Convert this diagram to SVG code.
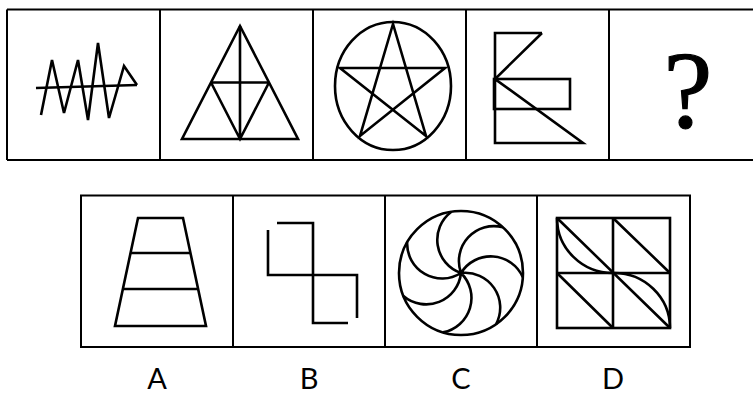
<svg xmlns="http://www.w3.org/2000/svg" width="753" height="397" viewBox="0 0 753 397">
<style>
.frame{fill:none;stroke:#000;stroke-width:2}
.fig{fill:none;stroke:#000;stroke-width:2.6;stroke-linejoin:miter;stroke-linecap:butt}
.lbl{font-family:Lato,"Liberation Sans",sans-serif;font-size:29px;fill:#000;text-anchor:middle}
.q{font-family:"Liberation Serif",serif;font-size:110px;fill:#000;stroke:#000;stroke-width:1.2;text-anchor:middle}
</style>
<rect width="753" height="397" fill="#fff"/>
<g id="top-row-frame">
<path class="frame" d="M7 9.5H754M7 160H754M7 9.5V160M160 9.5V160M313 9.5V160M466 9.5V160M609 9.5V160"/>
</g>
<g id="panel1">
<path class="fig" d="M36 88L137 85"/>
<path class="fig" d="M41 115L52 60L64 113L78 60L88 120L98 43L109 118L124 66L137 85"/>
</g>
<g id="panel2">
<path class="fig" d="M240 26L182 139H298Z"/>
<path class="fig" d="M240 26V139M211 82.5H269M211 82.5L240 139L269 82.5"/>
</g>
<g id="panel3">
<ellipse class="fig" cx="393" cy="86" rx="58" ry="64"/>
<path class="fig" d="M393 24L360 136L445 68H340L426 136Z"/>
</g>
<g id="panel4">
<path class="fig" d="M542 33H495V143H583L495 79L542 33"/>
<rect class="fig" x="494" y="79" width="76" height="30"/>
</g>
<g id="panel5">
<text class="q" x="688" y="127">?</text>
</g>
<g id="bottom-row-frame">
<path class="frame" d="M81 195.5H690V347H81ZM233 195.5V347M385 195.5V347M537 195.5V347"/>
</g>
<g id="optionA">
<path class="fig" d="M138 218H183L206 326H115Z"/>
<path class="fig" d="M131 253H191M123 289H198"/>
</g>
<g id="optionB">
<path class="fig" d="M268 230V275H357V318M277 223H313V323H348"/>
</g>
<g id="optionC">
<circle class="fig" cx="461" cy="273" r="62"/>
<path class="fig" d="M461 273A35 35 0 0 1 522.85 277.33M461 273A35 35 0 0 1 502.93 227.33M461 273A35 35 0 0 1 451.45 211.74M461 273A35 35 0 0 1 407.15 242.27M461 273A35 35 0 0 1 403.4 295.94M461 273A35 35 0 0 1 443.02 332.33M461 273A35 35 0 0 1 496.18 324.05"/>
</g>
<g id="optionD">
<rect class="fig" x="557" y="218" width="113" height="110"/>
<path class="fig" d="M613 218V328M557 273H670"/>
<path class="fig" d="M557 218L670 328M613 218L670 273M557 273L613 328"/>
<path class="fig" d="M557 218A56 55 0 0 0 613 273M613 273A56 55 0 0 1 670 328"/>
</g>
<g id="labels">
<text class="lbl" x="157" y="389">A</text>
<text class="lbl" x="309" y="389">B</text>
<text class="lbl" x="461" y="389">C</text>
<text class="lbl" x="613" y="389">D</text>
</g>
</svg>
